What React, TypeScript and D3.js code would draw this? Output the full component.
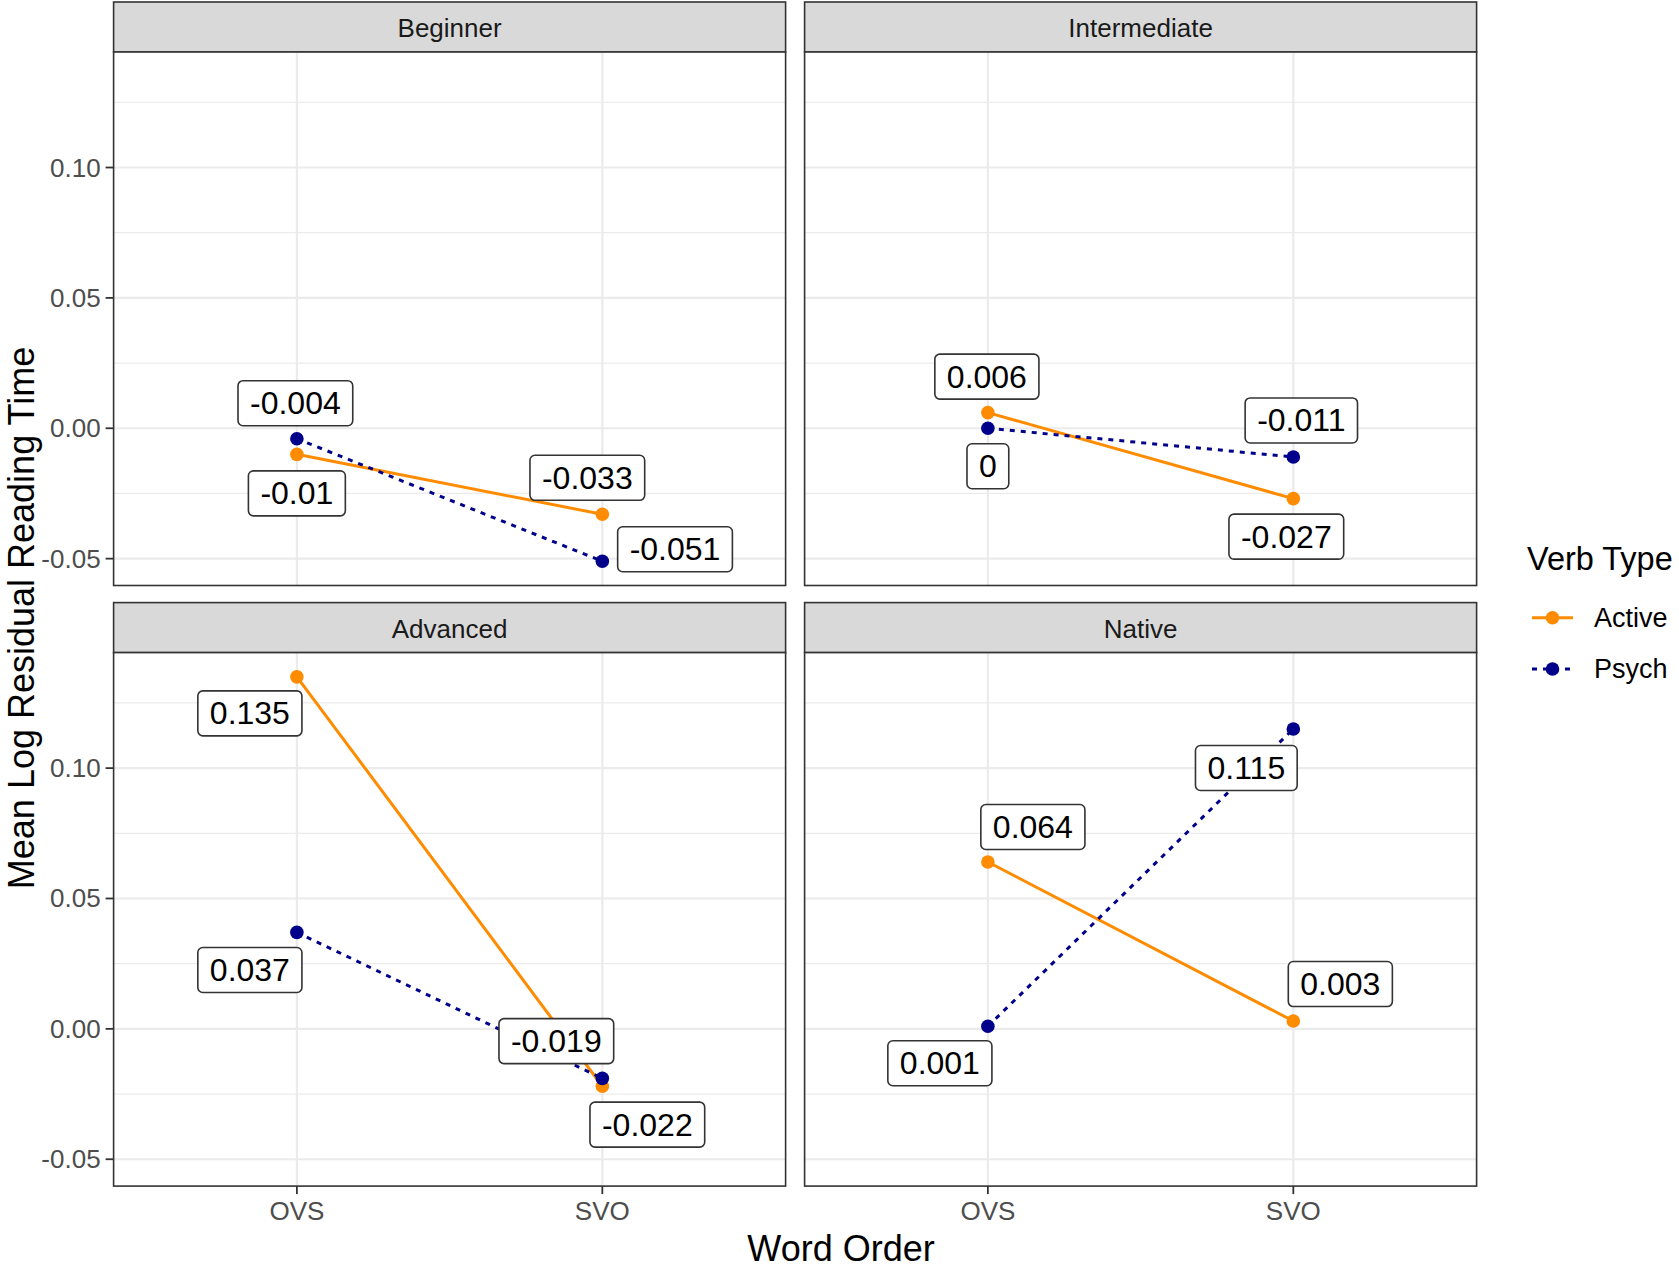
import React, { useEffect, useRef } from 'react';
import * as d3 from 'd3';

const levels = ['Beginner', 'Intermediate', 'Advanced', 'Native'];
const wordOrders = ['OVS', 'SVO'];
const verbTypes = ['Active', 'Psych'];

// mean log residual reading time, [OVS, SVO] per level
const activeMeans = [
  [-0.01, -0.033],
  [0.006, -0.027],
  [0.135, -0.022],
  [0.064, 0.003],
];
const psychMeans = [
  [-0.004, -0.051],
  [0, -0.011],
  [0.037, -0.019],
  [0.001, 0.115],
];

const yTicks = [-0.05, 0, 0.05, 0.1];
const yMinorTicks = [-0.025, 0.025, 0.075, 0.125];

// where ggrepel pushed each label (px from its point), [OVS, SVO] per level
const activeNudges = [
  [[0, 39], [-15, -36.5]],
  [[-1, -36], [-7, 38]],
  [[-47, 36.5], [45, 38.4]],
  [[45, -35], [47, -37]],
];
const psychNudges = [
  [[-1.5, -35.5], [72.7, -12]],
  [[0, 38], [8, -36.5]],
  [[-47, 37.6], [-46, -37.3]],
  [[-48, 37], [-47, 39]],
];

const colors: Record<string, string> = { Active: '#FF8C00', Psych: '#00008B' };
const dashes: Record<string, string | null> = { Active: null, Psych: '5,6' };

const FONT = '"Liberation Sans", Arial, sans-serif';

const App: React.FC = () => {
  const ref = useRef<SVGSVGElement>(null);

  useEffect(() => {
    if (!ref.current) return;
    const width = 1679;
    const height = 1270;
    const svg = d3.select(ref.current);
    svg.selectAll('*').remove();
    svg.attr('width', width).attr('height', height);

    svg.append('rect').attr('width', width).attr('height', height).attr('fill', '#fff');

    const colX = [113.6, 804.6];
    const panelW = 672;
    const rowTop = [2, 602.6];
    const stripH = 50;
    const panelH = 533.5;

    const all = [...activeMeans.flat(), ...psychMeans.flat()];
    const lo = d3.min(all)!;
    const hi = d3.max(all)!;
    const pad = (hi - lo) * 0.05;

    const series = [
      { name: 'Active', values: activeMeans, nudges: activeNudges },
      { name: 'Psych', values: psychMeans, nudges: psychNudges },
    ];

    const fmt = (v: number) => String(+v.toFixed(3));

    levels.forEach((level, i) => {
      const col = i % 2;
      const row = Math.floor(i / 2);
      const x0 = colX[col];
      const sTop = rowTop[row];
      const pTop = sTop + stripH;
      const pBottom = pTop + panelH;

      const x = d3
        .scalePoint<string>()
        .domain(wordOrders)
        .range([x0, x0 + panelW])
        .padding(0.6);
      const y = d3
        .scaleLinear()
        .domain([lo - pad, hi + pad])
        .range([pBottom, pTop]);

      const g = svg.append('g');

      // strip
      g.append('rect')
        .attr('x', x0)
        .attr('y', sTop)
        .attr('width', panelW)
        .attr('height', stripH)
        .attr('fill', '#D9D9D9')
        .attr('stroke', '#333')
        .attr('stroke-width', 1.6);
      g.append('text')
        .attr('x', x0 + panelW / 2)
        .attr('y', sTop + stripH / 2 + 1)
        .attr('text-anchor', 'middle')
        .attr('dominant-baseline', 'central')
        .attr('font-family', FONT)
        .attr('font-size', 26)
        .attr('fill', '#1A1A1A')
        .text(level);

      // panel + grid
      g.append('rect')
        .attr('x', x0)
        .attr('y', pTop)
        .attr('width', panelW)
        .attr('height', panelH)
        .attr('fill', '#fff');

      g.selectAll('.minor')
        .data(yMinorTicks)
        .enter()
        .append('line')
        .attr('x1', x0)
        .attr('x2', x0 + panelW)
        .attr('y1', (d) => y(d))
        .attr('y2', (d) => y(d))
        .attr('stroke', '#EBEBEB')
        .attr('stroke-width', 1.2);
      g.selectAll('.major')
        .data(yTicks)
        .enter()
        .append('line')
        .attr('x1', x0)
        .attr('x2', x0 + panelW)
        .attr('y1', (d) => y(d))
        .attr('y2', (d) => y(d))
        .attr('stroke', '#EBEBEB')
        .attr('stroke-width', 2.2);
      g.selectAll('.vgrid')
        .data(wordOrders)
        .enter()
        .append('line')
        .attr('x1', (d) => x(d)!)
        .attr('x2', (d) => x(d)!)
        .attr('y1', pTop)
        .attr('y2', pBottom)
        .attr('stroke', '#EBEBEB')
        .attr('stroke-width', 2.2);

      // lines and points
      series.forEach((s) => {
        const pts = wordOrders.map((w, j) => [x(w)!, y(s.values[i][j])] as [number, number]);
        g.append('path')
          .attr('d', d3.line()(pts))
          .attr('fill', 'none')
          .attr('stroke', colors[s.name])
          .attr('stroke-width', 3)
          .attr('stroke-dasharray', dashes[s.name]);
        g.selectAll(null)
          .data(pts)
          .enter()
          .append('circle')
          .attr('cx', (d) => d[0])
          .attr('cy', (d) => d[1])
          .attr('r', 6.8)
          .attr('fill', colors[s.name]);
      });

      // labels
      series.forEach((s) => {
        wordOrders.forEach((w, j) => {
          const v = s.values[i][j];
          const [dx, dy] = s.nudges[i][j];
          const lg = g.append('g').attr('transform', `translate(${x(w)! + dx},${y(v) + dy})`);
          const box = lg.append('rect');
          const t = lg
            .append('text')
            .attr('text-anchor', 'middle')
            .attr('dominant-baseline', 'central')
            .attr('font-family', FONT)
            .attr('font-size', 32)
            .attr('fill', '#000')
            .text(fmt(v));
          const tw = (t.node() as SVGTextElement).getComputedTextLength();
          box
            .attr('x', -tw / 2 - 12)
            .attr('y', -22.5)
            .attr('width', tw + 24)
            .attr('height', 45)
            .attr('rx', 5)
            .attr('fill', '#fff')
            .attr('stroke', '#333')
            .attr('stroke-width', 1.6);
        });
      });

      // border
      g.append('rect')
        .attr('x', x0)
        .attr('y', pTop)
        .attr('width', panelW)
        .attr('height', panelH)
        .attr('fill', 'none')
        .attr('stroke', '#333')
        .attr('stroke-width', 1.6);

      // y axis on left column
      if (col === 0) {
        yTicks.forEach((tk) => {
          g.append('line')
            .attr('x1', x0 - 8)
            .attr('x2', x0)
            .attr('y1', y(tk))
            .attr('y2', y(tk))
            .attr('stroke', '#333')
            .attr('stroke-width', 1.8);
          g.append('text')
            .attr('x', x0 - 13)
            .attr('y', y(tk))
            .attr('text-anchor', 'end')
            .attr('dominant-baseline', 'central')
            .attr('font-family', FONT)
            .attr('font-size', 26)
            .attr('fill', '#4D4D4D')
            .text(d3.format('.2f')(tk).replace('−', '-'));
        });
      }

      // x axis on bottom row
      if (row === 1) {
        wordOrders.forEach((w) => {
          g.append('line')
            .attr('x1', x(w)!)
            .attr('x2', x(w)!)
            .attr('y1', pBottom)
            .attr('y2', pBottom + 8)
            .attr('stroke', '#333')
            .attr('stroke-width', 1.8);
          g.append('text')
            .attr('x', x(w)!)
            .attr('y', pBottom + 34)
            .attr('text-anchor', 'middle')
            .attr('font-family', FONT)
            .attr('font-size', 26)
            .attr('fill', '#4D4D4D')
            .text(w);
        });
      }
    });

    // axis titles
    svg
      .append('text')
      .attr('x', 841)
      .attr('y', 1261)
      .attr('text-anchor', 'middle')
      .attr('font-family', FONT)
      .attr('font-size', 36)
      .attr('fill', '#000')
      .text('Word Order');
    svg
      .append('text')
      .attr('transform', 'translate(34,618) rotate(-90)')
      .attr('text-anchor', 'middle')
      .attr('font-family', FONT)
      .attr('font-size', 36)
      .attr('fill', '#000')
      .text('Mean Log Residual Reading Time');

    // legend
    svg
      .append('text')
      .attr('x', 1527)
      .attr('y', 570)
      .attr('font-family', FONT)
      .attr('font-size', 32.5)
      .attr('fill', '#000')
      .text('Verb Type');
    verbTypes.forEach((vt, k) => {
      const ky = 617.7 + k * 51.3;
      svg
        .append('line')
        .attr('x1', 1532)
        .attr('x2', 1573)
        .attr('y1', ky)
        .attr('y2', ky)
        .attr('stroke', colors[vt])
        .attr('stroke-width', 3)
        .attr('stroke-dasharray', dashes[vt]);
      svg
        .append('circle')
        .attr('cx', 1552.5)
        .attr('cy', ky)
        .attr('r', 6.8)
        .attr('fill', colors[vt]);
      svg
        .append('text')
        .attr('x', 1594)
        .attr('y', ky)
        .attr('dominant-baseline', 'central')
        .attr('font-family', FONT)
        .attr('font-size', 27)
        .attr('fill', '#000')
        .text(vt);
    });
  }, []);

  return (
    <svg
      ref={ref}
      style={{ position: 'absolute', left: 0, top: 0, display: 'block' }}
    />
  );
};

export default App;
